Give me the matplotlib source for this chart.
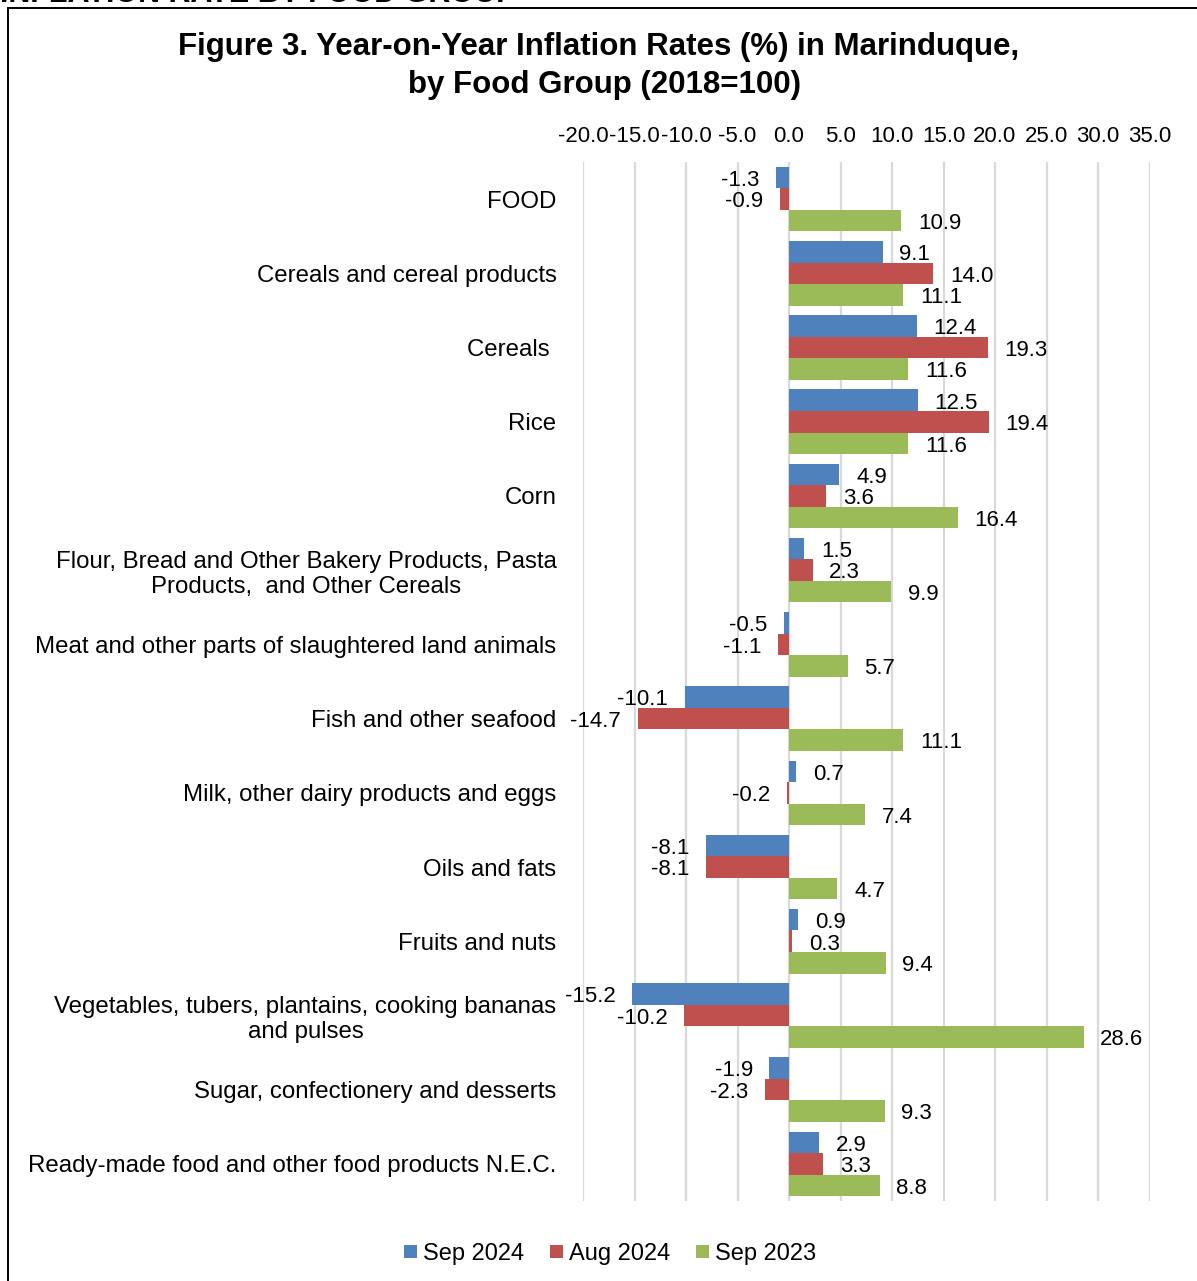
"""Year-on-year inflation rates in Marinduque by food group."""
import matplotlib

matplotlib.use("Agg")
import matplotlib.pyplot as plt
import numpy as np
from matplotlib.patches import Rectangle

plt.rcParams["font.family"] = ["Liberation Sans", "DejaVu Sans"]

categories = [
    "FOOD",
    "Cereals and cereal products",
    "Cereals ",
    "Rice",
    "Corn",
    "Flour, Bread and Other Bakery Products, Pasta\nProducts,  and Other Cereals",
    "Meat and other parts of slaughtered land animals",
    "Fish and other seafood",
    "Milk, other dairy products and eggs",
    "Oils and fats",
    "Fruits and nuts",
    "Vegetables, tubers, plantains, cooking bananas\nand pulses",
    "Sugar, confectionery and desserts",
    "Ready-made food and other food products N.E.C.",
]
sep_2024 = [-1.3, 9.1, 12.4, 12.5, 4.9, 1.5, -0.5, -10.1, 0.7, -8.1, 0.9, -15.2, -1.9, 2.9]
aug_2024 = [-0.9, 14.0, 19.3, 19.4, 3.6, 2.3, -1.1, -14.7, -0.2, -8.1, 0.3, -10.2, -2.3, 3.3]
sep_2023 = [10.9, 11.1, 11.6, 11.6, 16.4, 9.9, 5.7, 11.1, 7.4, 4.7, 9.4, 28.6, 9.3, 8.8]
series_names = ["Sep 2024", "Aug 2024", "Sep 2023"]
colors = ["#4F81BD", "#C0504D", "#9BBB59"]
x_ticks = np.arange(-20, 36, 5)

W, H = 1197, 1281
fig = plt.figure(figsize=(W / 100, H / 100), dpi=100)
ax = fig.add_axes([583 / W, 1 - 1201 / H, (1149.5 - 583) / W, (1201 - 162) / H])

# outer frame (right/bottom edges fall outside the crop)
fig.patches.append(Rectangle((8 / W, -0.1), 1.2, 1 - 7.5 / H + 0.1, transform=fig.transFigure,
                             fill=False, edgecolor="black", linewidth=1.4))
# clipped heading at the very top
fig.text(0.0, 1 - 1.5 / H, "INFLATION RATE BY FOOD GROUP", fontsize=22, fontweight="bold",
         ha="left", va="baseline")

y = np.arange(len(categories))
h = 0.29
for k, (vals, name, col) in enumerate(zip([sep_2024, aug_2024, sep_2023], series_names, colors)):
    pos = y + (k - 1) * h
    ax.barh(pos, vals, height=h, color=col, label=name, zorder=2)
    for p, v in zip(pos, vals):
        off = 12 if v >= 0 else -12
        ax.annotate(f"{v:.1f}", (v, p), xytext=(off, -2), textcoords="offset points",
                    ha="left" if v >= 0 else "right", va="center", fontsize=16)

ax.set_xlim(-20, 35)
ax.set_ylim(len(categories) - 0.5, -0.5)
ax.set_xticks(x_ticks)
ax.set_xticklabels([f"{t:.1f}" for t in x_ticks], fontsize=16)
ax.xaxis.tick_top()
ax.tick_params(axis="x", length=0, pad=11)
ax.set_yticks(y)
ax.set_yticklabels(categories, fontsize=17.3, multialignment="center")
ax.tick_params(axis="y", length=0, pad=19)
ax.grid(axis="x", color="#D9D9D9", linewidth=1.6, zorder=0)
for s in ax.spines.values():
    s.set_visible(False)

fig.text(0.5, 1 - 55 / H, "Figure 3. Year-on-Year Inflation Rates (%) in Marinduque,",
         ha="center", va="baseline", fontsize=22.5, fontweight="bold")
fig.text(0.505, 1 - 93 / H, "by Food Group (2018=100)",
         ha="center", va="baseline", fontsize=22.5, fontweight="bold")

fig.legend(loc="center", bbox_to_anchor=(610 / W, 1 - 1254 / H), ncol=3, frameon=False,
           fontsize=17, handlelength=0.55, handleheight=0.5, handletextpad=0.25,
           columnspacing=1.1)

fig.savefig("out.png", dpi=100)
